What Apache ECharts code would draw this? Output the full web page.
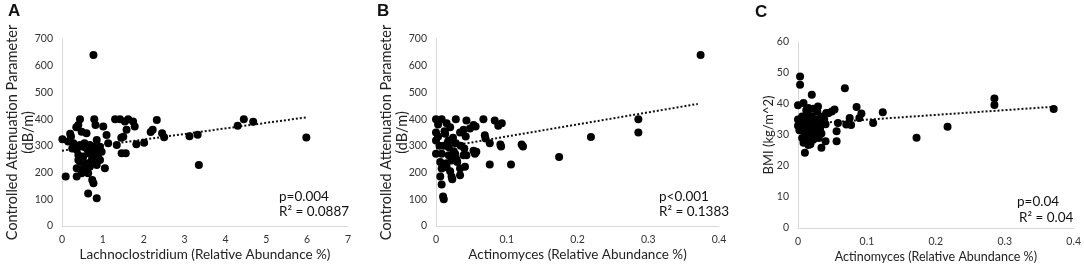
<!DOCTYPE html>
<html>
<head>
<meta charset="utf-8">
<script src="https://cdn.jsdelivr.net/npm/echarts@6/dist/echarts.min.js"></script>
<style>
  html, body { margin: 0; padding: 0; background: #fff; }
  #main { width: 1084px; height: 268px; }
</style>
</head>
<body>
<div id="main"></div>
<script>
// panel A: Lachnoclostridium vs CAP
var aX = [0.01, 0.09, 0.2, 0.15, 0.28, 0.44, 0.40, 0.48, 0.6, 0.79, 0.82, 1.01, 0.85, 1.09, 1.30, 1.42, 1.54, 1.62, 1.74, 1.78,
    1.58, 1.50, 1.34, 1.46, 1.56, 1.82, 2.01, 2.17, 2.22, 2.32, 2.45, 2.50, 1.13,
    0.32, 0.36, 0.44, 0.52, 0.60, 0.68, 0.77, 0.85, 0.93, 0.40, 0.52, 0.64, 0.73, 0.81, 0.97, 0.44, 0.60, 0.73, 0.89,
    0.36, 0.52, 0.68, 0.85, 0.36, 0.48, 0.64, 0.74, 0.77, 0.64, 0.85, 1.05, 0.40,
    3.12, 3.32, 3.35, 4.30, 4.45, 4.68, 5.98, 0.77, 0.22, 0.35, 0.93, 1.45, 0.25, 0.55, 0.70];
var aY = [325, 185, 345, 316, 310, 400, 378, 353, 347, 400, 378, 372, 322, 341, 400, 400, 391, 400, 391, 372,
    360, 334, 303, 272, 272, 306, 312, 352, 360, 397, 347, 332, 310,
    297, 285, 303, 297, 291, 303, 297, 285, 297, 266, 260, 272, 266, 266, 278, 241, 235, 247, 254,
    216, 216, 222, 228, 185, 197, 197, 172, 160, 122, 104, 216, 247,
    336, 342, 228, 375, 400, 390, 331, 640, 335, 370, 247, 330, 290, 310, 285];
var aTrendX = [0, 6];
var aTrendY = [282, 407];

// panel B: Actinomyces vs CAP
var bX = [0.0, 0.008, 0.028, 0.043, 0.067, 0.083, 0.093, 0.088, 0.053, 0.048, 0.003, 0.015, 0.020, 0.034, 0.039, 0.042,
    0.069, 0.076, 0.091, 0.121, 0.0, 0.0, 0.003, 0.013, 0.018, 0.024, 0.011, 0.018, 0.028, 0.035, 0.04,
    0.0, 0.008, 0.018, 0.027, 0.039, 0.055, 0.057, 0.043, 0.006, 0.015, 0.022, 0.029, 0.008, 0.015, 0.020,
    0.034, 0.041, 0.076, 0.106, 0.022, 0.034, 0.006, 0.008, 0.010, 0.011, 0.023,
    0.374, 0.286, 0.286, 0.219, 0.174, 0.123, 0.092, 0.070, 0.056, 0.053, 0.012, 0.025, 0.005, 0.030, 0.017];
var bY = [400, 400, 400, 395, 400, 395, 385, 375, 378, 365, 380, 385, 370, 350, 360, 335,
    340, 310, 305, 305, 350, 320, 335, 345, 320, 330, 300, 295, 310, 300, 290,
    270, 270, 265, 270, 265, 270, 278, 265, 240, 235, 245, 250, 215, 220, 205,
    215, 222, 230, 230, 185, 190, 185, 155, 110, 100, 175,
    640, 400, 350, 333, 258, 298, 298, 328, 372, 282, 355, 280, 300, 240, 315];
var bTrendX = [0, 0.37];
var bTrendY = [290, 457];

// panel C: Actinomyces vs BMI
var cX = [0.003, 0.003, 0.020, 0.068, 0.0, 0.008, 0.015, 0.029, 0.041, 0.049, 0.053, 0.085, 0.092, 0.089, 0.075, 0.077,
    0.058, 0.056, 0.056, 0.109, 0.123, 0.040, 0.034, 0.010,
    0.0, 0.0, 0.002, 0.004, 0.006, 0.008, 0.010, 0.010, 0.012, 0.013, 0.014, 0.015, 0.016, 0.017, 0.018, 0.019,
    0.020, 0.021, 0.022, 0.024, 0.025, 0.026, 0.028, 0.030, 0.030, 0.032, 0.034, 0.036, 0.038, 0.040, 0.012,
    0.006, 0.008, 0.015, 0.022, 0.044, 0.005, 0.027, 0.033,
    0.371, 0.285, 0.285, 0.217, 0.172, 0.070];
var cY = [48.9, 46.2, 43.0, 45.1, 39.6, 40.3, 38.7, 39.2, 37.1, 37.6, 38.2, 39.0, 36.9, 35.5, 35.5, 33.2,
    33.9, 31.2, 28.0, 33.9, 37.3, 28.0, 25.9, 24.3,
    35, 33, 31.5, 34, 36, 32, 30, 35, 28, 33, 37, 31, 29, 34, 27, 32,
    36, 30, 28.5, 33, 35, 31, 37.5, 34, 29, 32, 30.5, 36, 35, 33.5, 38,
    29, 27.5, 26.8, 38.5, 37, 33.5, 34.5, 35.5,
    38.4, 41.8, 39.7, 32.7, 29.1, 33.4];
var cTrendX = [0, 0.37];
var cTrendY = [33.4, 39.1];

function pairs(xs, ys) {
    var out = [];
    for (var i = 0; i < xs.length; i++) {
        out.push([xs[i], ys[i]]);
    }
    return out;
}

var font = 'Lato, "Open Sans", sans-serif';
var axisGray = '#d9d9d9';

function xAx(idx, max, interval, name, fontSize) {
    return {
        gridIndex: idx, type: 'value', min: 0, max: max, interval: interval,
        name: name, nameLocation: 'middle', nameGap: 22, nameMoveOverlap: false,
        nameTextStyle: {fontFamily: font, fontSize: fontSize, color: '#222'},
        axisLine: {show: true, onZero: false, lineStyle: {color: axisGray, width: 1}},
        axisTick: {show: false},
        splitLine: {show: false},
        axisLabel: {fontFamily: font, fontSize: 10.5, color: '#333', margin: 8}
    };
}

function yAx(idx, max, interval, name, gap, fontSize) {
    return {
        gridIndex: idx, type: 'value', min: 0, max: max, interval: interval,
        name: name, nameLocation: 'middle', nameGap: gap, nameMoveOverlap: false,
        nameTextStyle: {fontFamily: font, fontSize: fontSize, color: '#222', lineHeight: 16},
        axisLine: {show: true, lineStyle: {color: axisGray, width: 1}},
        axisTick: {show: false},
        splitLine: {show: false},
        axisLabel: {fontFamily: font, fontSize: 10.5, color: '#333', margin: 9}
    };
}

function dots(idx, xs, ys) {
    return {
        type: 'scatter', xAxisIndex: idx, yAxisIndex: idx,
        data: pairs(xs, ys), symbolSize: 8,
        itemStyle: {color: '#000', opacity: 1}, z: 3
    };
}

function trend(idx, xs, ys) {
    return {
        type: 'line', xAxisIndex: idx, yAxisIndex: idx,
        data: pairs(xs, ys), showSymbol: false, symbol: 'none',
        lineStyle: {color: '#111', width: 2, type: [2, 2]}, z: 2
    };
}

function txt(x, y, text, size, bold) {
    return {
        type: 'text', left: x, top: y,
        style: {text: text, fontFamily: bold ? 'Arial, "Liberation Sans", sans-serif' : font,
            fontSize: size, fontWeight: bold ? 'bold' : 'normal', fill: '#111'}
    };
}

var myChart = echarts.init(document.getElementById('main'));
var option = {
    animation: false,
    backgroundColor: '#fff',
    grid: [
        {left: 62, right: 1084 - 348, top: 39, bottom: 268 - 226},
        {left: 436, right: 1084 - 719, top: 39, bottom: 268 - 226},
        {left: 798, right: 1084 - 1075, top: 42, bottom: 268 - 229}
    ],
    xAxis: [
        xAx(0, 7, 1, 'Lachnoclostridium (Relative Abundance %)', 13.5),
        xAx(1, 0.4, 0.1, 'Actinomyces (Relative Abundance %)', 13.5),
        xAx(2, 0.4, 0.1, 'Actinomyces (Relative Abundance %)', 12.5)
    ],
    yAxis: [
        yAx(0, 700, 100, 'Controlled Attenuation Parameter\n(dB/m)', 26, 14.5),
        yAx(1, 700, 100, 'Controlled Attenuation Parameter\n(dB/m)', 26, 14.5),
        yAx(2, 60, 10, 'BMI (kg/m^2)', 21, 13)
    ],
    series: [
        trend(0, aTrendX, aTrendY), dots(0, aX, aY),
        trend(1, bTrendX, bTrendY), dots(1, bX, bY),
        trend(2, cTrendX, cTrendY), dots(2, cX, cY)
    ],
    graphic: [
        txt(8, 3, 'A', 17, true),
        txt(377, 3, 'B', 17, true),
        txt(755, 4, 'C', 17, true),
        txt(279, 190, 'p=0.004', 13.5),
        txt(279, 205, 'R² = 0.0887', 13.5),
        txt(659, 190, 'p<0.001', 13.5),
        txt(659, 205, 'R² = 0.1383', 13.5),
        txt(1017, 195, 'p=0.04', 13.5),
        txt(1019, 211, 'R² = 0.04', 13.5)
    ]
};
myChart.setOption(option);
</script>
</body>
</html>
